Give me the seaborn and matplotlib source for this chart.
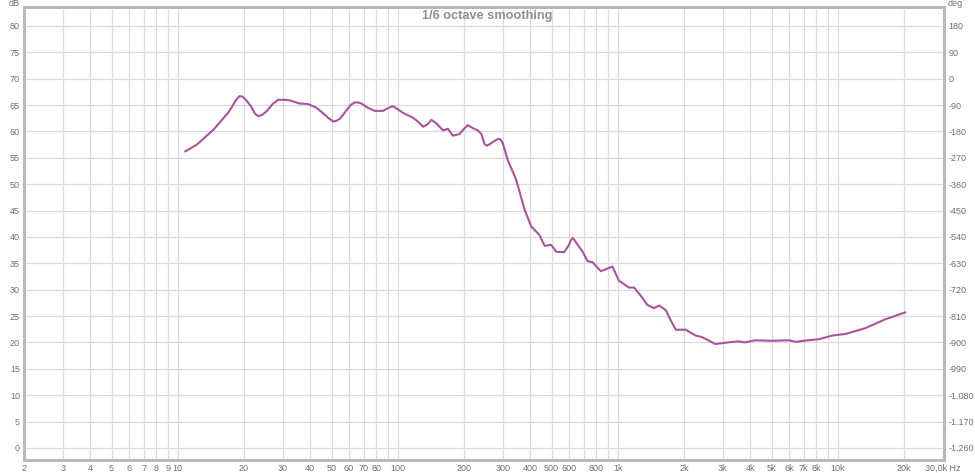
import matplotlib
matplotlib.use("Agg")
import matplotlib.pyplot as plt
import seaborn as sns
import pandas as pd
from matplotlib.ticker import FixedLocator, FixedFormatter, NullLocator

# ---- data ----
freq_hz = [10.8, 12.2, 14.5, 16.9, 17.7, 18.5, 19.1, 19.7, 20.4, 21.5, 22.4, 23.2,
           24.1, 25.3, 27.0, 28.6, 30.5, 32.3, 35.8, 39.1, 42.7, 46.5, 48.5, 50.9,
           52.5, 54.5, 58.5, 61.0, 63.7, 66.0, 68.4, 73.0, 78.6, 85.8, 90.0, 94.6,
           98.5, 105.9, 117.4, 124, 130.4, 136, 142.3, 150, 160.5, 169, 178, 190.7,
           200, 208, 220, 231, 240, 248, 254, 262, 275, 286, 293, 300, 316, 345,
           377, 404, 440, 465, 498, 525, 571, 600, 612, 623, 636, 650, 692, 729,
           768, 838, 897, 945, 1013, 1125, 1186, 1280, 1364, 1462, 1543, 1654,
           1750, 1836, 2036, 2259, 2419, 2776, 3184, 3531, 3785, 4198, 4984, 6018,
           6446, 7300, 8223, 9440, 10840, 13360, 16470, 20300]
spl_db = [56.2, 57.5, 60.3, 63.5, 64.8, 66.1, 66.7, 66.6, 66.0, 64.8, 63.4, 62.9,
          63.1, 63.8, 65.2, 66.0, 66.0, 65.9, 65.3, 65.2, 64.5, 63.2, 62.5, 61.9,
          62.0, 62.4, 64.0, 65.0, 65.5, 65.5, 65.3, 64.5, 63.9, 63.9, 64.4, 64.8,
          64.4, 63.5, 62.6, 61.8, 60.9, 61.3, 62.2, 61.5, 60.2, 60.5, 59.2, 59.5,
          60.5, 61.2, 60.6, 60.2, 59.5, 57.6, 57.3, 57.6, 58.2, 58.6, 58.5, 57.8,
          54.6, 50.9, 45.2, 42.0, 40.4, 38.3, 38.5, 37.2, 37.1, 38.5, 39.3, 39.8,
          39.4, 38.8, 37.2, 35.4, 35.2, 33.5, 34.0, 34.4, 31.7, 30.4, 30.4, 28.7,
          27.1, 26.5, 27.0, 26.1, 24.0, 22.4, 22.4, 21.3, 21.0, 19.7, 20.0, 20.2,
          20.0, 20.4, 20.3, 20.4, 20.1, 20.4, 20.6, 21.3, 21.6, 22.7, 24.4, 25.7]

x_ticks = [2, 3, 4, 5, 6, 7, 8, 9,
           10, 20, 30, 40, 50, 60, 70, 80, 90,
           100, 200, 300, 400, 500, 600, 700, 800, 900,
           1000, 2000, 3000, 4000, 5000, 6000, 7000, 8000, 9000,
           10000, 20000, 30000]
x_labels = ["2", "3", "4", "5", "6", "7", "8", "9",
            "10", "20", "30", "40", "50", "60", "70", "80", "",
            "100", "200", "300", "400", "500", "600", "", "800", "",
            "1k", "2k", "3k", "4k", "5k", "6k", "7k", "8k", "",
            "10k", "20k", "30,0k Hz"]
db_ticks = [0, 5, 10, 15, 20, 25, 30, 35, 40, 45, 50, 55, 60, 65, 70, 75, 80]
deg_ticks = [180, 90, 0, -90, -180, -270, -360, -450, -540, -630, -720, -810,
             -900, -990, -1080, -1170, -1260]
title_text = "1/6 octave smoothing"

# ---- style ----
sns.set_style("white")
plt.rcParams["font.family"] = ["Liberation Sans", "DejaVu Sans"]

W, H = 975, 473
fig = plt.figure(figsize=(W / 100, H / 100), dpi=100)
ax = fig.add_axes([24 / W, 1 - 460 / H, (944 - 24) / W, (460 - 7) / H])

df = pd.DataFrame({"freq": freq_hz, "spl": spl_db})
sns.lineplot(data=df, x="freq", y="spl", ax=ax, color="#A8549F", linewidth=1.5,
             sort=True, estimator=None, solid_joinstyle="round",
             solid_capstyle="round")

ax.set_xscale("log")
ax.set_xlim(2, 30400)
y_lo, y_hi = -2.3, 83.6
ax.set_ylim(y_lo, y_hi)

grid_c = "#dcdcdc"
ax.xaxis.set_major_locator(FixedLocator(x_ticks))
ax.xaxis.set_major_formatter(FixedFormatter(x_labels))
ax.xaxis.set_minor_locator(NullLocator())
ax.set_yticks(db_ticks)
ax.set_yticklabels([str(v) for v in db_ticks])
ax.grid(True, which="major", color=grid_c, linewidth=0.9)
ax.set_axisbelow(True)
ax.tick_params(axis="both", length=0, labelsize=6.5, labelcolor="#707070")
ax.tick_params(axis="x", pad=3)
ax.tick_params(axis="y", pad=3)
ax.set_xlabel("")
ax.set_ylabel("")

for s in ax.spines.values():
    s.set_color("#b9b9b9")
    s.set_linewidth(2.2)

# right axis (phase scale)
ax2 = ax.twinx()
ax2.set_ylim(180 + (y_lo - 80) * 18, 180 + (y_hi - 80) * 18)
ax2.set_yticks(deg_ticks)

def fmt_deg(v):
    s = f"{abs(v):,}".replace(",", ".")
    return ("-" if v < 0 else "") + s

ax2.set_yticklabels([fmt_deg(v) for v in deg_ticks])
ax2.tick_params(axis="y", length=0, labelsize=6.5, labelcolor="#707070", pad=3)
for s in ax2.spines.values():
    s.set_visible(False)
ax2.grid(False)

fig.text(20 / W, 1 - 4 / H, "dB", fontsize=6.5, color="#707070", ha="right", va="center")
fig.text(948 / W, 1 - 4 / H, "deg", fontsize=6.5, color="#707070", ha="left", va="center")
fig.text(487.5 / W, 1 - 16 / H, title_text, fontsize=9.2, fontweight="bold",
         color="#8f8f8f", ha="center", va="center")

fig.savefig("out.png", dpi=100, facecolor="white")
